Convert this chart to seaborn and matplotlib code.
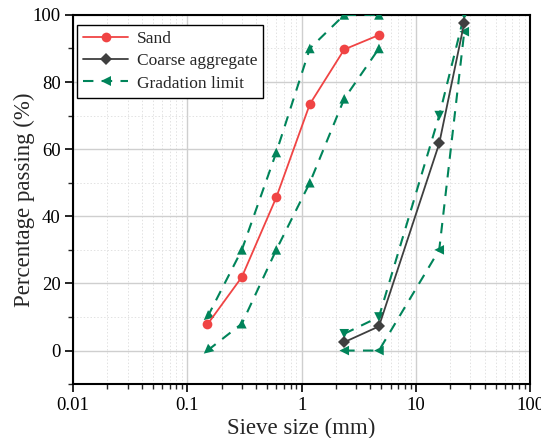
import matplotlib
matplotlib.use("Agg")
import matplotlib.pyplot as plt
from matplotlib.markers import MarkerStyle
from matplotlib.transforms import Affine2D
from matplotlib.lines import Line2D
from matplotlib.ticker import LogLocator, MultipleLocator, FixedLocator, FixedFormatter, NullFormatter
import numpy as np
import pandas as pd
import seaborn as sns

# Sieve sizes (mm) and percentage passing
sand_size = [0.15, 0.3, 0.6, 1.18, 2.36, 4.75]
sand_pass = [7.8, 21.9, 45.6, 73.4, 89.7, 94.0]

coarse_size = [2.36, 4.75, 16, 26.5]
coarse_pass = [2.5, 7.2, 61.7, 97.7]

# Gradation limits (upper and lower envelopes)
sand_upper_size = [0.15, 0.3, 0.6, 1.18, 2.36, 4.75]
sand_upper_pass = [10, 30, 59, 90, 100, 100]
sand_lower_size = [0.15, 0.3, 0.6, 1.18, 2.36, 4.75]
sand_lower_pass = [0, 8, 30, 50, 75, 90]

coarse_upper_size = [2.36, 4.75, 16, 26.5]
coarse_upper_pass = [5, 10, 70, 100]
coarse_lower_size = [2.36, 4.75, 16, 26.5]
coarse_lower_pass = [0, 0, 30, 95]

x_ticks = [0.01, 0.1, 1, 10, 100]
x_tick_labels = ["0.01", "0.1", "1", "10", "100"]

# Arrow-head shapes along each limit line ("dl" = pointing down-left)
sand_upper_marks = ["dl", "^", "^", "^", "^", "^"]
sand_lower_marks = ["dl", "^", "^", "^", "^", "^"]
coarse_upper_marks = ["v", "v", "v", "v"]
coarse_lower_marks = ["<", "<", "<", "<"]

MARKER_SHAPES = {
    "dl": MarkerStyle("<", transform=Affine2D().rotate_deg(40)),
    "^": MarkerStyle("^"),
    "v": MarkerStyle("v"),
    "<": MarkerStyle("<"),
}

sns.set_theme(style="white")
plt.rcParams["font.family"] = ["Liberation Serif", "DejaVu Serif"]

RED = "#F04444"
GREY = "#3F3F3F"
GREEN = "#00845A"

fig = plt.figure(figsize=(5.41, 4.38), dpi=100)
ax = fig.add_axes([0.135, 0.123, 0.845, 0.843])

# Gradation limit envelopes
limits = [
    (sand_upper_size, sand_upper_pass, sand_upper_marks),
    (sand_lower_size, sand_lower_pass, sand_lower_marks),
    (coarse_upper_size, coarse_upper_pass, coarse_upper_marks),
    (coarse_lower_size, coarse_lower_pass, coarse_lower_marks),
]
for xs, ys, marks in limits:
    df = pd.DataFrame({"size": xs, "pass": ys})
    sns.lineplot(data=df, x="size", y="pass", ax=ax, sort=False, color=GREEN,
                 linewidth=1.5, dashes=False, linestyle=(0, (5, 4)), zorder=3)
    for key in sorted(set(marks)):
        sel = df[[mk == key for mk in marks]]
        ax.scatter(sel["size"], sel["pass"], marker=MARKER_SHAPES[key], s=48,
                   color=GREEN, edgecolors="none", zorder=4)

# Measured gradation curves
sand_df = pd.DataFrame({"size": sand_size, "pass": sand_pass})
sns.lineplot(data=sand_df, x="size", y="pass", ax=ax, sort=False, color=RED,
             linewidth=1.3, marker="o", markersize=7, markeredgewidth=0, zorder=5)
coarse_df = pd.DataFrame({"size": coarse_size, "pass": coarse_pass})
sns.lineplot(data=coarse_df, x="size", y="pass", ax=ax, sort=False, color=GREY,
             linewidth=1.3, marker="D", markersize=6.5, markeredgewidth=0, zorder=5)

ax.set_xscale("log")
ax.set_xlim(0.01, 100)
ax.set_ylim(-10, 100)

ax.xaxis.set_major_locator(FixedLocator(x_ticks))
ax.xaxis.set_major_formatter(FixedFormatter(x_tick_labels))
ax.xaxis.set_minor_locator(LogLocator(base=10, subs=np.arange(2, 10)))
ax.xaxis.set_minor_formatter(NullFormatter())
ax.yaxis.set_major_locator(FixedLocator([0, 20, 40, 60, 80, 100]))
ax.yaxis.set_minor_locator(MultipleLocator(10))

ax.grid(which="major", color="#cfcfcf", linewidth=1.0, linestyle="-")
ax.grid(which="minor", color="#e2e2e2", linewidth=0.7, linestyle=(0, (1.5, 2)))
ax.set_axisbelow(True)

for side in ["left", "bottom", "top", "right"]:
    ax.spines[side].set_visible(True)
    ax.spines[side].set_color("black")
    ax.spines[side].set_linewidth(1.5)

ax.tick_params(axis="both", which="major", direction="out", length=6, width=1.2,
               labelsize=13.5, colors="black", left=True, bottom=True, pad=3)
ax.tick_params(axis="both", which="minor", direction="out", length=3.5, width=1.0,
               left=True, bottom=True)

ax.set_xlabel("Sieve size (mm)", fontsize=16.5, labelpad=3)
ax.set_ylabel("Percentage passing (%)", fontsize=16.5, labelpad=-2)

# Legend handles
handles = [
    Line2D([], [], color=RED, linewidth=1.3, marker="o", markersize=7, markeredgewidth=0),
    Line2D([], [], color=GREY, linewidth=1.3, marker="D", markersize=6.5, markeredgewidth=0),
    Line2D([], [], color=GREEN, linewidth=1.5, linestyle=(0, (5, 4)), marker="<",
           markersize=7, markeredgewidth=0),
]
leg = ax.legend(handles, ["Sand", "Coarse aggregate", "Gradation limit"],
                loc="upper left", bbox_to_anchor=(0.0085, 0.973), fontsize=12.5,
                frameon=True, fancybox=False, handlelength=2.6, borderpad=0.35,
                labelspacing=0.35, handletextpad=0.5, borderaxespad=0.0)
leg.get_frame().set_edgecolor("black")
leg.get_frame().set_linewidth(1.0)
leg.get_frame().set_alpha(1)

fig.savefig("out.png", dpi=100)
